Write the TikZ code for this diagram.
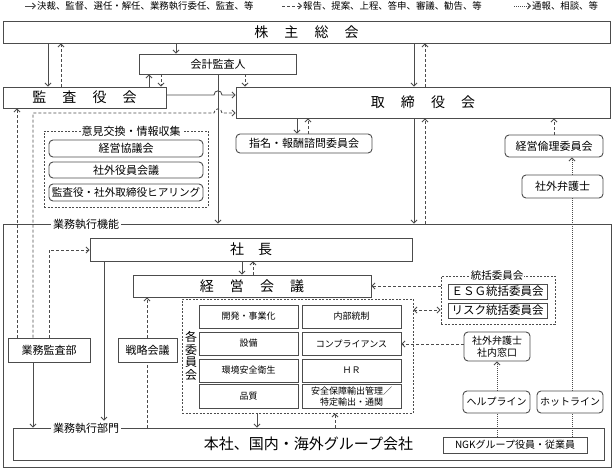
\documentclass[tikz,border=0pt]{standalone}
\usepackage{fontspec}
\setmainfont{Noto Sans CJK JP}
\usetikzlibrary{arrows.meta}
\definecolor{linec}{gray}{0.3}
\newcommand{\fsz}[2]{\fontsize{#1}{#2}\selectfont}
\newcommand{\gap}{\hspace{1.15em}}

\tikzset{
  box/.style={draw=linec, line width=0.9pt, inner sep=0pt, align=center, font=\fsz{11}{13}},
  rbox/.style={box, rounded corners=4pt},
  grp/.style={draw=linec, line width=0.8pt, dash pattern=on 2pt off 1.5pt, inner sep=0pt},
  ttl/.style={font=\fsz{14}{16}},
  flab/.style={fill=white, inner sep=2pt, font=\fsz{11}{13}},
  ctrl/.style={draw=linec, line width=0.9pt, ->},
  rept/.style={ctrl, dash pattern=on 3pt off 2pt},
  notif/.style={ctrl, dash pattern=on 1pt off 1pt},
}

\begin{document}
\begin{tikzpicture}[x=1pt, y=-1pt, >={Straight Barb[length=3pt,width=6pt]}]
  \useasboundingbox (0,0) rectangle (615,470);

  % Legend
  \coordinate (l1a) at (25,6);
  \coordinate (l2a) at (282,6);
  \coordinate (l3a) at (514,6);
  \node[anchor=west, inner sep=1pt, font=\fsz{9.4}{11}] (l1t) at (36,6) {決裁、監督、選任・解任、業務執行委任、監査、等};
  \node[anchor=west, inner sep=1pt, font=\fsz{9.4}{11}] (l2t) at (302,6) {報告、提案、上程、答申、審議、勧告、等};
  \node[anchor=west, inner sep=1pt, font=\fsz{9.4}{11}] (l3t) at (531,6) {通報、相談、等};
  \draw[ctrl] (l1a) -- (l1t.west);
  \draw[rept] (l2a) -- (l2t.west);
  \draw[notif] (l3a) -- (l3t.west);

  % Governance bodies
  \node[box, ttl, minimum width=607pt, minimum height=22pt] (kabu) at (306.5,32) {株\gap 主\gap 総\gap 会};
  \node[box, minimum width=157pt, minimum height=20pt] (kaikei) at (218,64) {会計監査人};
  \node[box, ttl, minimum width=163pt, minimum height=21pt] (kansa) at (84.5,97.5) {監\gap 査\gap 役\gap 会};
  \node[box, ttl, minimum width=374pt, minimum height=31pt] (tori) at (423,102.5) {取\gap 締\gap 役\gap 会};
  \node[rbox, minimum width=136pt, minimum height=19pt] (shimei) at (304,143.5) {指名・報酬諮問委員会};
  \node[rbox, minimum width=98pt, minimum height=22pt] (rinri) at (554,146) {経営倫理委員会};
  \node[rbox, minimum width=81pt, minimum height=23pt] (bengo) at (562.5,186.5) {社外弁護士};

  % Opinion exchange group
  \node[grp, minimum width=164pt, minimum height=76pt] (iken) at (126,169) {};
  \node[flab, inner sep=1pt] (ikenlab) at (131,131) {意見交換・情報収集};
  \node[rbox, minimum width=154pt, minimum height=17pt] (kyogi) at (126,148.5) {経営協議会};
  \node[rbox, minimum width=154pt, minimum height=16pt] (shagai) at (126,170) {社外役員会議};
  \node[rbox, minimum width=154pt, minimum height=17pt, font=\fsz{10.6}{12}] (hearing) at (126,192.5) {監査役・社外取締役ヒアリング};

  % Executive function frame
  \node[box, minimum width=608pt, minimum height=243pt] (kinou) at (307,345.5) {};
  \node[flab, anchor=west] (kinoulab) at (51,224) {業務執行機能};
  \node[box, ttl, minimum width=322pt, minimum height=23pt] (shacho) at (251,249.5) {社\hspace{1em}長};
  \node[box, ttl, minimum width=238pt, minimum height=22pt] (keiei) at (252,286) {経\gap 営\gap 会\gap 議};
  \node[box, minimum width=82pt, minimum height=24pt] (kansabu) at (49,350) {業務監査部};
  \node[box, minimum width=59pt, minimum height=24pt] (senryaku) at (147.5,350) {戦略会議};

  % Committees
  \node[grp, minimum width=231pt, minimum height=114pt] (kakui) at (297.5,356) {};
  \node[align=center, inner sep=0pt, font=\fsz{12}{12.5}] (kakuilab) at (191,356) {各\\委\\員\\会};
  \node[box, font=\fsz{9}{11.5}, minimum width=99pt, minimum height=23pt] (kaihatsu) at (248.5,316.5) {開発・事業化};
  \node[box, font=\fsz{9}{11.5}, minimum width=99pt, minimum height=23pt] (naibu) at (351.5,316.5) {内部統制};
  \node[box, font=\fsz{9}{11.5}, minimum width=99pt, minimum height=23pt] (setsubi) at (248.5,343.5) {設備};
  \node[box, font=\fsz{9}{11.5}, minimum width=99pt, minimum height=23pt] (comp) at (351.5,343.5) {コンプライアンス};
  \node[box, font=\fsz{9}{11.5}, minimum width=99pt, minimum height=23pt] (kankyo) at (248.5,370.5) {環境安全衛生};
  \node[box, font=\fsz{9}{11.5}, minimum width=99pt, minimum height=23pt] (hr) at (351.5,370.5) {ＨＲ};
  \node[box, font=\fsz{9}{11.5}, minimum width=99pt, minimum height=24pt] (hinshitsu) at (248.5,396.5) {品質};
  \node[box, font=\fsz{9}{11.5}, minimum width=99pt, minimum height=24pt] (anpo) at (351.5,396.5) {安全保障輸出管理／\\特定輸出・通関};

  % Supervising committees
  \node[grp, minimum width=114pt, minimum height=48pt] (toukatsu) at (498,300) {};
  \node[flab, inner sep=1pt, font=\fsz{10.5}{12}] (toukatsulab) at (497,276) {統括委員会};
  \node[box, font=\fsz{11.5}{13}, minimum width=99pt, minimum height=15pt] (esg) at (497.5,291.5) {ＥＳＧ統括委員会};
  \node[box, font=\fsz{11.5}{13}, minimum width=99pt, minimum height=15pt] (risk) at (497.5,310.5) {リスク統括委員会};

  % Whistleblowing
  \node[rbox, font=\fsz{10}{12}, minimum width=66pt, minimum height=29pt] (madoguchi) at (497,346.5) {社外弁護士\\社内窓口};
  \node[rbox, font=\fsz{10}{12}, minimum width=67pt, minimum height=22pt] (helpline) at (496.5,402) {ヘルプライン};
  \node[rbox, font=\fsz{10}{12}, minimum width=66pt, minimum height=22pt] (hotline) at (570,402) {ホットライン};

  % Business divisions
  \node[box, font=\fsz{15}{17}, minimum width=591pt, minimum height=32pt] (bumon) at (308.5,444) {本社、国内・海外グループ会社};
  \node[flab, anchor=west] (bumonlab) at (51,428) {業務執行部門};
  \node[box, font=\fsz{10}{12}, minimum width=144pt, minimum height=16pt] (ngk) at (515,445) {NGKグループ役員・従業員};

  % Shareholders <-> auditors
  \draw[ctrl] (kabu.south -| 48,0) -- (kansa.north -| 48,0);
  \draw[rept] (kansa.north -| 61,0) -- (kabu.south -| 61,0);
  \draw[ctrl] (kabu.south -| 176,0) -- (kaikei.north -| 176,0);
  \draw[ctrl] (kansa.north -| 149,0) -- (kaikei.south -| 149,0);
  \draw[rept] (kaikei.south -| 161,0) -- (kansa.north -| 161,0);
  \draw[rept] (kaikei.south -| 245,0) -- (tori.north -| 245,0);
  \draw[ctrl] (kaikei.south -| 218,0) -- (kinou.north -| 218,0);

  % Auditors -> board (jumping over)
  \draw[ctrl] (kansa.east |- 0,95) -- (214,95) .. controls (214,89.5) and (222,89.5) .. (222,95) -- (tori.west |- 0,95);
  \draw[rept] (kansabu.north -| 33,0) -- (33,113) -- (214,113) .. controls (214,107.5) and (222,107.5) .. (222,113) -- (tori.west |- 0,113);
  \draw[rept] (kansabu.north -| 17,0) -- (kansa.south -| 17,0);
  \draw[rept] (kansabu.north -| 49,0) -- (49,250) -- (shacho.west |- 0,250);

  % Shareholders <-> board
  \draw[ctrl] (kabu.south -| 414,0) -- (tori.north -| 414,0);
  \draw[rept] (tori.north -| 425,0) -- (kabu.south -| 425,0);
  \draw[ctrl] (tori.south -| 297,0) -- (shimei.north -| 297,0);
  \draw[rept] (shimei.north -| 308,0) -- (tori.south -| 308,0);
  \draw[ctrl] (tori.south -| 414,0) -- (kinou.north -| 414,0);
  \draw[rept] (kinou.north -| 425,0) -- (tori.south -| 425,0);
  \draw[rept] (rinri.north) -- (tori.south -| rinri.north);

  % Lawyer and hotlines
  \draw[notif] (bengo.north -| 572,0) -- (rinri.south -| 572,0);
  \draw[notif, -] (hotline.north -| 572,0) -- (bengo.south -| 572,0);
  \draw[notif, -] (ngk.north -| 572,0) -- (hotline.south -| 572,0);
  \draw[notif] (helpline.north -| 497,0) -- (madoguchi.south -| 497,0);
  \draw[notif, -] (ngk.north -| 497,0) -- (helpline.south -| 497,0);
  \draw[rept] (madoguchi.west |- 0,344) -- (comp.east |- 0,344);

  % Committees -> management meeting
  \draw[rept] (toukatsu.west |- 0,286) -- (keiei.east |- 0,286);
  \draw[rept, <->] (kakui.east |- 0,310) -- (toukatsu.west |- 0,310);

  % President and executive
  \draw[ctrl] (shacho.south -| 242,0) -- (keiei.north -| 242,0);
  \draw[rept] (keiei.north -| 253,0) -- (shacho.south -| 253,0);
  \draw[ctrl] (shacho.south -| 104,0) -- (bumonlab.north -| 104,0);
  \draw[rept, -] (bumon.north -| 147,0) -- (senryaku.south -| 147,0);
  \draw[rept] (senryaku.north -| 147,0) -- (keiei.south -| 147,0);
  \draw[ctrl] (kansabu.south -| 33,0) -- (bumon.north -| 33,0);
  \draw[ctrl] (kakui.south -| 257,0) -- (bumon.north -| 257,0);
  \draw[rept] (bumon.north -| 335,0) -- (kakui.south -| 335,0);
\end{tikzpicture}
\end{document}
